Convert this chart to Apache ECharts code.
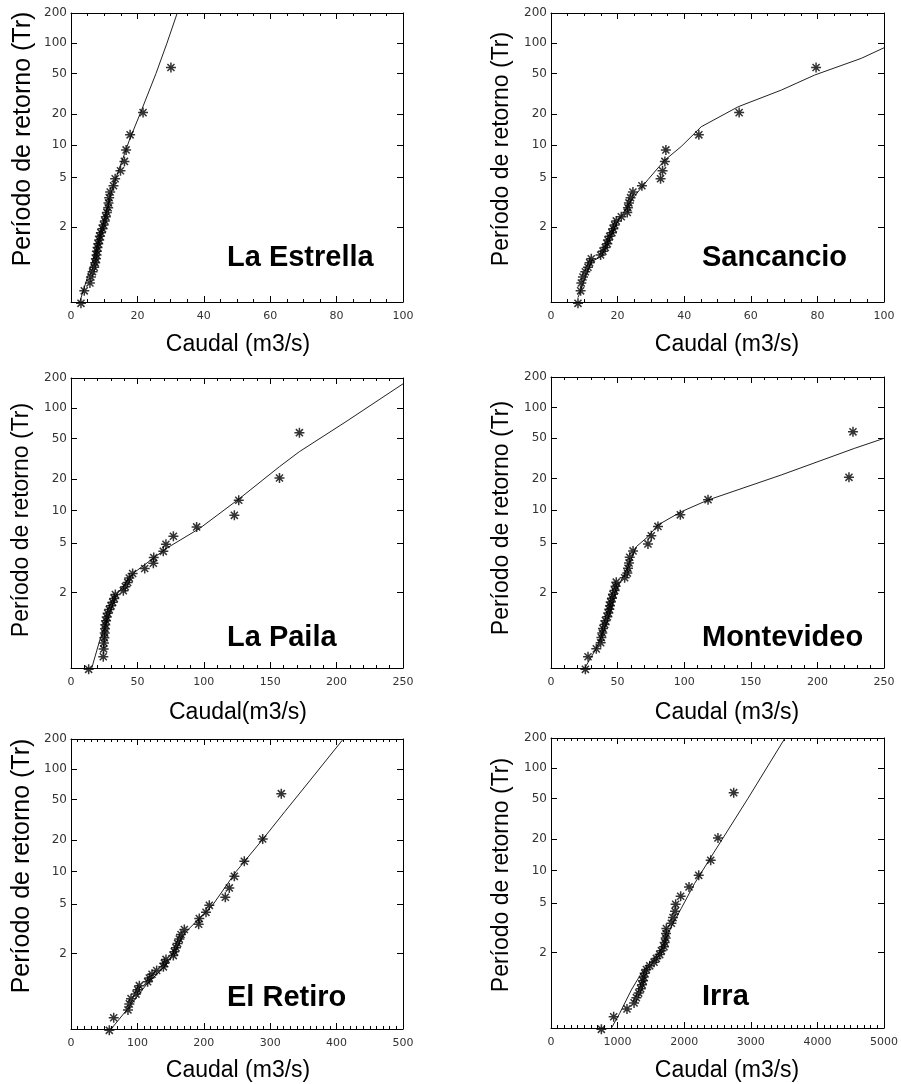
<!DOCTYPE html>
<html>
<head>
<meta charset="utf-8">
<script src="https://cdn.jsdelivr.net/npm/echarts@6/dist/echarts.min.js"></script>
<style>
  html, body { margin: 0; padding: 0; background: #ffffff; }
  #chart { width: 901px; height: 1084px; }
</style>
</head>
<body>
<div id="chart"></div>
<script>
// Estaciones
const stations = ['La Estrella', 'Sancancio', 'La Paila', 'Montevideo', 'El Retiro', 'Irra'];

// Período de retorno asignado a cada caudal máximo anual ordenado (posición de graficación)
const periodoRetorno = [57.36, 20.59, 12.55, 9.02, 7.04, 5.777, 4.896, 4.249, 3.752, 3.360,
  3.042, 2.779, 2.557, 2.369, 2.206, 2.064, 1.940, 1.829, 1.731, 1.642,
  1.562, 1.490, 1.424, 1.363, 1.308, 1.257, 1.209, 1.166, 1.125, 1.087, 1.051, 1.018];

// Caudales máximos anuales observados (m3/s), de mayor a menor
const caudalLaEstrella = [30.1, 21.7, 17.8, 16.6, 16.1, 14.9, 13.3, 12.8, 11.8, 11.5, 11.3, 11.2,
  10.8, 10.5, 10.2, 9.8, 9.5, 9.0, 8.7, 8.5, 8.2, 8.0, 7.8, 7.7, 7.5, 7.3, 7.0, 6.5, 6.0, 5.7, 4.0, 3.0];
const caudalSancancio = [79.6, 56.5, 44.4, 34.5, 34.2, 33.5, 32.9, 27.3, 24.6, 23.9, 23.4, 23.1,
  22.9, 21.1, 19.6, 19.1, 18.7, 18.3, 17.6, 17.1, 16.9, 16.3, 15.6, 14.9, 12.1, 11.6, 11.1, 10.3, 9.6, 9.1, 8.9, 8.1];
const caudalLaPaila = [172, 157, 126.3, 123, 94.6, 77.1, 71.5, 69.5, 62.3, 62.0, 55.5, 46.4,
  43.9, 42.7, 40.9, 39.4, 33.4, 32.6, 31.4, 30.1, 28.8, 27.6, 26.9, 26.4, 25.8, 25.6, 25.4, 25.1, 24.8, 24.6, 24.3, 13.3];
const caudalMontevideo = [226.7, 223.7, 117.9, 97.1, 80.3, 75.3, 72.8, 61.6, 59.1, 58.6, 57.8, 57.3,
  55.3, 49.0, 48.5, 47.8, 46.5, 45.8, 44.8, 44.3, 43.8, 43.0, 42.3, 40.8, 40.3, 39.0, 38.5, 37.8, 37.3, 34.0, 27.8, 25.8];
const caudalElRetiro = [316.7, 288.7, 261.0, 246.0, 238.4, 232.4, 208.3, 203.3, 193.2, 192.3, 170.7, 165.7,
  163.1, 160.6, 158.1, 155.6, 154.1, 143.1, 140.6, 139.1, 129.0, 122.0, 117.9, 115.4, 102.9, 100.4, 97.9, 90.4, 87.8, 85.8, 64.3, 57.7];
const caudalIrra = [2743, 2507, 2398, 2218, 2072, 1947, 1872, 1862, 1832, 1807, 1732, 1727,
  1722, 1707, 1697, 1657, 1632, 1582, 1547, 1482, 1432, 1407, 1392, 1382, 1367, 1347, 1317, 1282, 1247, 1141, 941, 756];

// Curvas de distribución ajustadas: caudal (m3/s) y período de retorno
const ajusteLaEstrellaQ  = [2.6, 8.5, 12.6, 17.6, 20.8, 25.6, 28.9, 32.0];
const ajusteLaEstrellaTr = [1.02, 1.64, 4.17, 11.2, 20.0, 50, 100, 200];
const ajusteSancancioQ   = [8.1, 12.1, 15.1, 19.1, 24.1, 29.1, 34.1, 39.1, 45.1, 56.2, 69.2, 79.2, 93.2, 100];
const ajusteSancancioTr  = [1.03, 1.27, 1.34, 2.0, 3.2, 4.8, 7.2, 9.7, 15, 23.5, 34.3, 48.3, 70.7, 90];
const ajusteLaPailaQ     = [15.6, 21.8, 29.4, 33.1, 46.9, 72, 97, 126.8, 156.9, 171.9, 207, 250];
const ajusteLaPailaTr    = [1.02, 1.15, 1.49, 1.88, 2.79, 4.52, 6.84, 13.0, 26.5, 37.2, 73.6, 175];
const ajusteMontevideoQ  = [25.3, 34.0, 42.8, 50.3, 57.8, 64.1, 72.8, 80.3, 97.8, 117.9, 172.9, 227.9, 250];
const ajusteMontevideoTr = [1.02, 1.09, 1.37, 2.19, 3.13, 4.63, 5.68, 7.26, 9.65, 12.45, 21.7, 39.5, 49.5];
const ajusteElRetiroQ    = [60.2, 87.9, 113, 143.1, 173.2, 213.4, 248.5, 288.7, 322, 360.5, 410];
const ajusteElRetiroTr   = [1.02, 1.106, 1.317, 1.685, 2.92, 4.93, 9.98, 20.4, 38.1, 78.3, 200];
const ajusteIrraQ        = [906, 1031, 1206, 1356, 1656, 1806, 1957, 2157, 2407, 2658, 2958, 3514];
const ajusteIrraTr       = [1.02, 1.065, 1.242, 1.488, 2.086, 3.15, 4.52, 7.6, 13.6, 24.6, 50.4, 200];

// Ejes
const trTicks = [2, 5, 10, 20, 50, 100, 200];
const trMin = 1.0204;
const trMax = 200;
const xMax = [100, 100, 250, 250, 500, 5000];
const xInterval = [20, 20, 50, 50, 100, 1000];
const xMinorSplit = [4, 4, 5, 5, 10, 10];
const xTitles = ['Caudal (m3/s)', 'Caudal (m3/s)', 'Caudal(m3/s)', 'Caudal (m3/s)', 'Caudal (m3/s)', 'Caudal (m3/s)'];
const yTitle = 'Período de retorno (Tr)';

const caudales = [caudalLaEstrella, caudalSancancio, caudalLaPaila, caudalMontevideo, caudalElRetiro, caudalIrra];
const ajustesQ = [ajusteLaEstrellaQ, ajusteSancancioQ, ajusteLaPailaQ, ajusteMontevideoQ, ajusteElRetiroQ, ajusteIrraQ];
const ajustesTr = [ajusteLaEstrellaTr, ajusteSancancioTr, ajusteLaPailaTr, ajusteMontevideoTr, ajusteElRetiroTr, ajusteIrraTr];

// Variable reducida de Gumbel: escala del eje vertical
const gumbel = tr => -Math.log(-Math.log(1 - 1 / tr));
const inverseGumbel = u => 1 / (1 - Math.exp(-Math.exp(-u)));

// Diseño de los seis paneles
const panels = [
  { left: 71,  top: 13,  width: 332, height: 289, yTitle: [23, 139, 25],  xTitle: [238, 345], name: [227, 258] },
  { left: 551, top: 13,  width: 333, height: 289, yTitle: [502, 149, 23], xTitle: [727, 345], name: [702, 258] },
  { left: 71,  top: 378, width: 332, height: 290, yTitle: [22, 520, 23],  xTitle: [238, 713], name: [227, 638] },
  { left: 551, top: 377, width: 333, height: 291, yTitle: [502, 518, 23], xTitle: [727, 713], name: [702, 638] },
  { left: 71,  top: 739, width: 332, height: 290, yTitle: [22, 866, 25],  xTitle: [238, 1071], name: [227, 998] },
  { left: 551, top: 738, width: 333, height: 290, yTitle: [502, 875, 23], xTitle: [727, 1071], name: [702, 997] }
];

// Asterisco (8 brazos)
const ASTERISK = 'path://M-10,-1.5L10,-1.5L10,1.5L-10,1.5Z' +
  'M1.5,-10L1.5,10L-1.5,10L-1.5,-10Z' +
  'M-6.01,-8.132L8.132,6.01L6.01,8.132L-8.132,-6.01Z' +
  'M-8.132,6.01L6.01,-8.132L8.132,-6.01L-6.01,8.132Z';

const tickFont = 'DejaVu Sans';
const titleFont = '"Liberation Sans", Arial, sans-serif';
const axisColor = '#000';

const grids = [], xAxes = [], yAxes = [], series = [], graphics = [];
const yTickValues = trTicks.map(gumbel);

panels.forEach((p, i) => {
  grids.push({ left: p.left, top: p.top, width: p.width, height: p.height, containLabel: false });

  const xBase = {
    type: 'value', gridIndex: i, min: 0, max: xMax[i], interval: xInterval[i],
    axisLine: { show: true, onZero: false, lineStyle: { color: axisColor, width: 1 } },
    axisTick: { show: true, inside: true, length: 6, lineStyle: { color: axisColor } },
    minorTick: { show: true, splitNumber: xMinorSplit[i], length: 3, lineStyle: { color: axisColor } },
    splitLine: { show: false }, minorSplitLine: { show: false }
  };
  xAxes.push(Object.assign({}, xBase, {
    position: 'bottom',
    axisLabel: { show: true, margin: 9, color: '#333', fontFamily: tickFont, fontSize: 11,
      showMinLabel: true, showMaxLabel: true, formatter: v => String(v) }
  }));
  xAxes.push(Object.assign({}, xBase, { position: 'top', axisLabel: { show: false } }));

  const yBase = {
    type: 'value', gridIndex: i, min: gumbel(trMin), max: gumbel(trMax),
    axisLine: { show: true, onZero: false, lineStyle: { color: axisColor, width: 1 } },
    axisTick: { show: true, inside: true, length: 6, customValues: yTickValues, lineStyle: { color: axisColor } },
    splitLine: { show: false }
  };
  yAxes.push(Object.assign({}, yBase, {
    position: 'left',
    axisLabel: { show: true, margin: 4, color: '#333', fontFamily: tickFont, fontSize: 12,
      customValues: yTickValues,
      formatter: v => String(Math.round(inverseGumbel(v))) }
  }));
  yAxes.push(Object.assign({}, yBase, { position: 'right', axisLabel: { show: false } }));

  series.push({
    type: 'line', xAxisIndex: 2 * i, yAxisIndex: 2 * i,
    data: ajustesQ[i].map((q, k) => [q, gumbel(ajustesTr[i][k])]),
    symbol: 'none', showSymbol: false, clip: true, silent: true,
    lineStyle: { color: '#222', width: 1 }, z: 2
  });
  series.push({
    type: 'scatter', xAxisIndex: 2 * i, yAxisIndex: 2 * i,
    data: caudales[i].map((q, k) => [q, gumbel(periodoRetorno[k])]),
    symbol: ASTERISK, symbolSize: 10, clip: false, silent: true,
    itemStyle: { color: '#000' }, z: 3
  });

  graphics.push({
    type: 'text', x: p.yTitle[0], y: p.yTitle[1], rotation: Math.PI / 2,
    style: { text: yTitle, font: p.yTitle[2] + 'px ' + titleFont, fill: '#000',
      align: 'center', verticalAlign: 'middle', textAlign: 'center', textVerticalAlign: 'middle' }
  });
  graphics.push({
    type: 'text', x: p.xTitle[0], y: p.xTitle[1],
    style: { text: xTitles[i], font: '23px ' + titleFont, fill: '#000',
      align: 'center', verticalAlign: 'middle', textAlign: 'center', textVerticalAlign: 'middle' }
  });
  graphics.push({
    type: 'text', x: p.name[0], y: p.name[1],
    style: { text: stations[i], font: 'bold 29px ' + titleFont, fill: '#000',
      align: 'left', verticalAlign: 'middle', textAlign: 'left', textVerticalAlign: 'middle' }
  });
});

const chart = echarts.init(document.getElementById('chart'), null, { renderer: 'canvas' });
chart.setOption({
  backgroundColor: '#ffffff',
  animation: false,
  grid: grids,
  xAxis: xAxes,
  yAxis: yAxes,
  series: series,
  graphic: { elements: graphics }
});
</script>
</body>
</html>
